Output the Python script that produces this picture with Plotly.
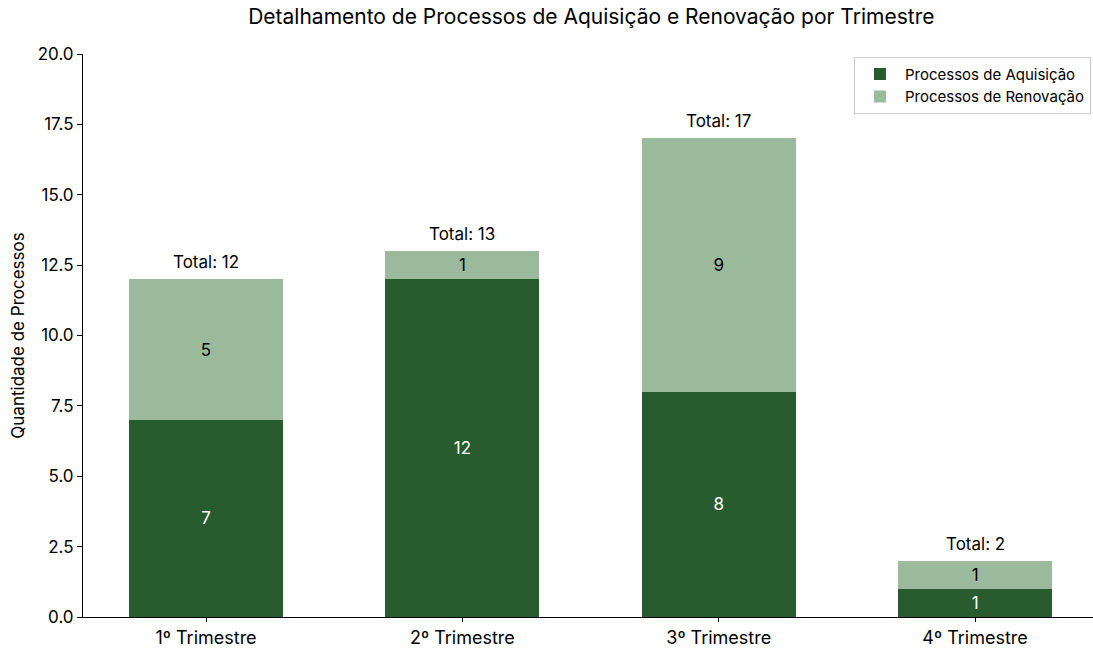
import plotly.graph_objects as go

trimestres = ["1º Trimestre", "2º Trimestre", "3º Trimestre", "4º Trimestre"]
aquisicao = [7, 12, 8, 1]
renovacao = [5, 1, 9, 1]
totais = [a + r for a, r in zip(aquisicao, renovacao)]

cor_aquisicao = "#285c2f"
cor_renovacao = "#9bba9c"
fonte = "Inter"

x = list(range(len(trimestres)))

fig = go.Figure()
fig.add_trace(go.Bar(
    x=x, y=aquisicao, name="Processos de Aquisição",
    marker=dict(color=cor_aquisicao, line=dict(width=0)),
    width=0.6, text=[str(v) for v in aquisicao], textposition="inside",
    insidetextanchor="middle", textfont=dict(color="white", size=17, family=fonte),
    hoverinfo="skip",
))
fig.add_trace(go.Bar(
    x=x, y=renovacao, name="Processos de Renovação",
    marker=dict(color=cor_renovacao, line=dict(width=0)),
    width=0.6, text=[str(v) for v in renovacao], textposition="inside",
    insidetextanchor="middle", textfont=dict(color="black", size=17, family=fonte),
    hoverinfo="skip",
))

# rótulo com o total acima de cada barra empilhada
for xi, t in zip(x, totais):
    fig.add_annotation(x=xi, y=t, text=f"Total: {t}", showarrow=False,
                       yanchor="bottom", yshift=5,
                       font=dict(size=17, color="black", family=fonte))

fig.update_layout(
    barmode="stack",
    width=1093, height=648,
    margin=dict(l=83, r=0, t=54, b=31),
    paper_bgcolor="white", plot_bgcolor="white",
    font=dict(family=fonte, color="black"),
    title=dict(text="Detalhamento de Processos de Aquisição e Renovação por Trimestre",
               x=0.541, xanchor="center", y=0.975, yanchor="middle",
               font=dict(size=21, family=fonte)),
    uniformtext=dict(mode=False),
    legend=dict(x=0.998, y=0.995, xanchor="right", yanchor="top",
                bordercolor="#cccccc", borderwidth=1, bgcolor="white",
                font=dict(size=15, family=fonte), traceorder="normal",
                itemwidth=40, tracegroupgap=0),
    bargap=0.4,
)
fig.update_xaxes(
    tickmode="array", tickvals=x, ticktext=trimestres,
    range=[-0.48, 3.46], showline=True, linecolor="black", linewidth=1,
    ticks="outside", ticklen=4, tickcolor="black", showgrid=False, zeroline=False,
    tickfont=dict(size=18, family=fonte),
)
fig.update_yaxes(
    range=[0, 20], dtick=2.5, tickformat=".1f",
    showline=True, linecolor="black", linewidth=1,
    ticks="outside", ticklen=5, tickcolor="black", showgrid=False, zeroline=False,
    tickfont=dict(size=17, family=fonte),
    title=dict(text="Quantidade de Processos", font=dict(size=17, family=fonte), standoff=8),
)

fig.write_html("out.html")
